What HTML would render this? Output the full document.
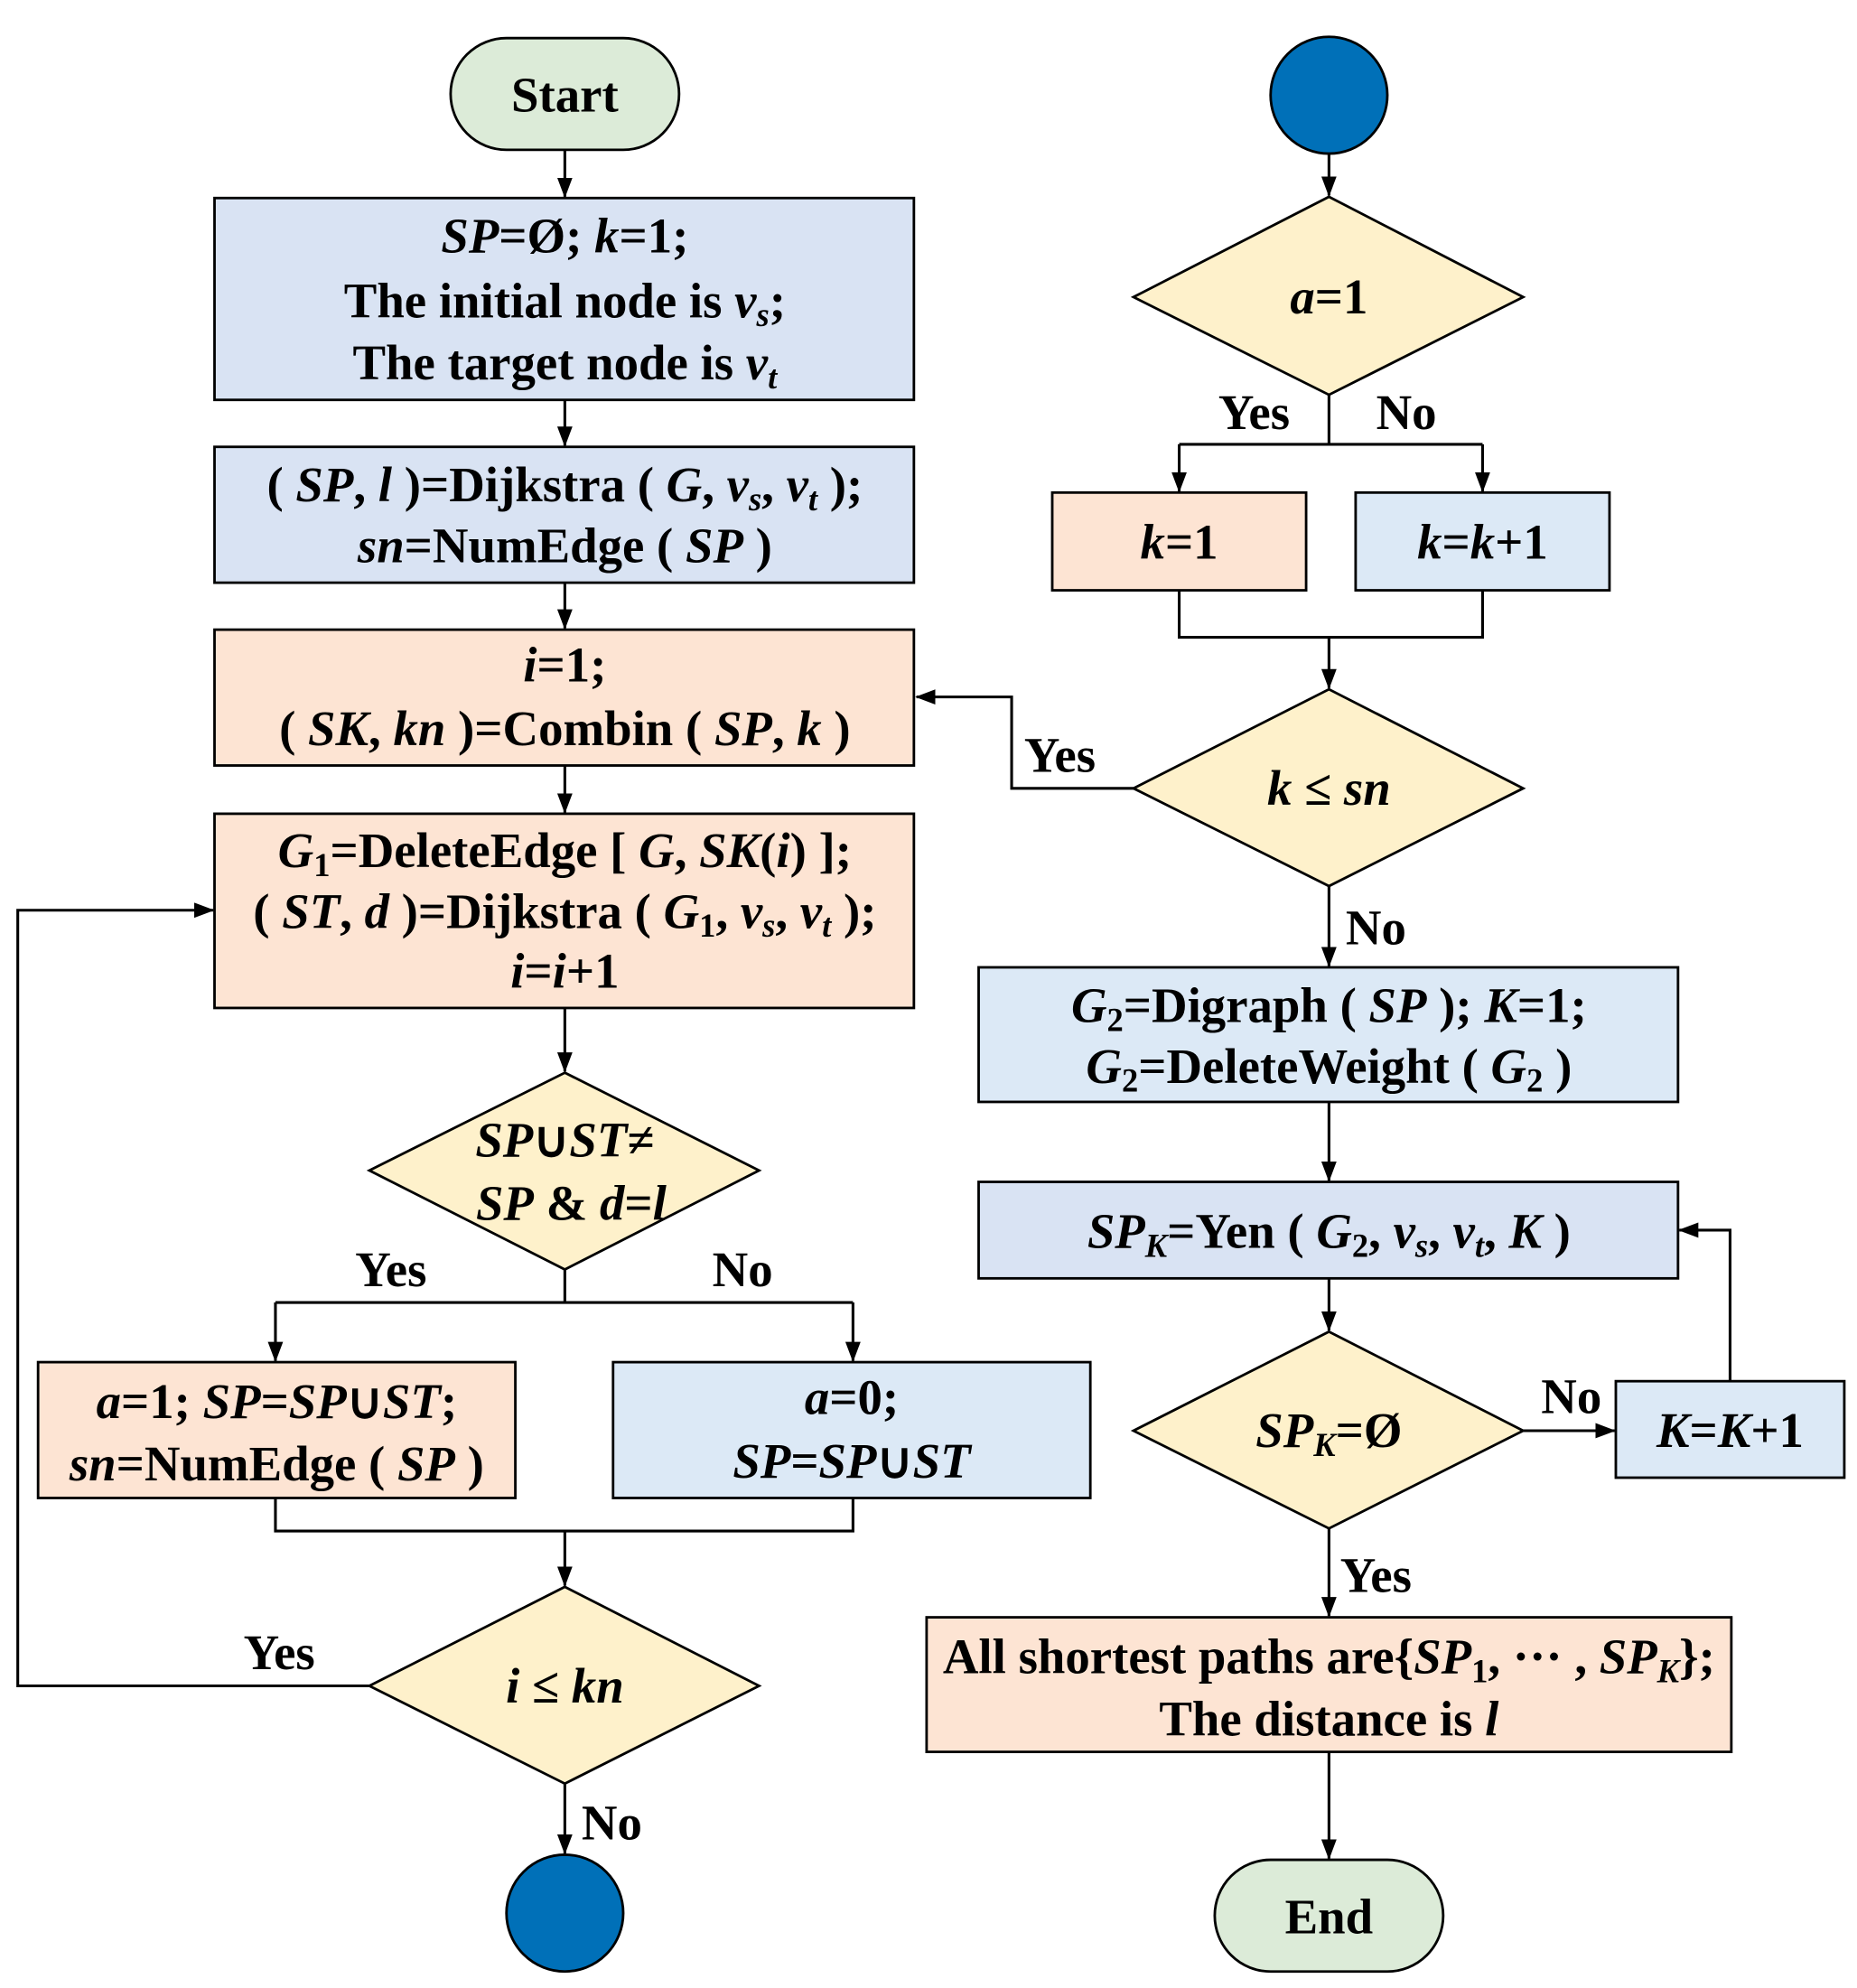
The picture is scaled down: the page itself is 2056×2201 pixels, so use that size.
<!DOCTYPE html>
<html><head><meta charset="utf-8">
<style>
html,body{margin:0;padding:0;background:#fff;}
svg{display:block;}
text{font-family:"Liberation Serif","Times New Roman",serif;font-weight:bold;font-size:39px;fill:#000;}
.i{font-style:italic;}
.s{font-size:26px;}
</style></head><body>
<svg width="2056" height="2201" viewBox="0 0 1463 1566" preserveAspectRatio="none" xmlns="http://www.w3.org/2000/svg">
<defs>
<marker id="b" markerWidth="16" markerHeight="12" refX="15" refY="6" orient="auto" markerUnits="userSpaceOnUse">
<path d="M0,0 L16,6 L0,12 z" fill="#000"/>
</marker>
</defs>
<g stroke="#000" stroke-width="2.2" fill="none">
<path d="M445,118 V155" marker-end="url(#b)"/>
<path d="M445,315 V351" marker-end="url(#b)"/>
<path d="M445,459 V495" marker-end="url(#b)"/>
<path d="M445,603 V640" marker-end="url(#b)"/>
<path d="M445,794 V844" marker-end="url(#b)"/>
<path d="M445,1000 V1026 M217,1026 H672"/>
<path d="M217,1026 V1072" marker-end="url(#b)"/>
<path d="M672,1026 V1072" marker-end="url(#b)"/>
<path d="M217,1180 V1206 H672 V1180 M445,1206 V1249" marker-end="url(#b)"/>
<path d="M291,1328 H14 V717 H168" marker-end="url(#b)"/>
<path d="M445,1405 V1460" marker-end="url(#b)"/>
<path d="M1047,121 V154" marker-end="url(#b)"/>
<path d="M1047,311 V350 M929,350 H1168"/>
<path d="M929,350 V387" marker-end="url(#b)"/>
<path d="M1168,350 V387" marker-end="url(#b)"/>
<path d="M929,465 V502 H1168 V465 M1047,502 V542" marker-end="url(#b)"/>
<path d="M893,621 H797 V549 H722" marker-end="url(#b)"/>
<path d="M1047,698 V761" marker-end="url(#b)"/>
<path d="M1047,868 V930" marker-end="url(#b)"/>
<path d="M1047,1007 V1048" marker-end="url(#b)"/>
<path d="M1200,1127 H1272" marker-end="url(#b)"/>
<path d="M1363,1088 V969 H1323" marker-end="url(#b)"/>
<path d="M1047,1204 V1273" marker-end="url(#b)"/>
<path d="M1047,1380 V1464" marker-end="url(#b)"/>
</g>
<g stroke="#000" stroke-width="2">
<rect x="355" y="30" width="180" height="88" rx="44" fill="#dcebd8"/>
<rect x="169" y="156" width="551" height="159" fill="#d9e3f3"/>
<rect x="169" y="352" width="551" height="107" fill="#d9e3f3"/>
<rect x="169" y="496" width="551" height="107" fill="#fde4d3"/>
<rect x="169" y="641" width="551" height="153" fill="#fde4d3"/>
<polygon points="445,845 598,922 445,1000 291,922" fill="#fef1cb"/>
<rect x="30" y="1073" width="376" height="107" fill="#fde4d3"/>
<rect x="483" y="1073" width="376" height="107" fill="#dce9f6"/>
<polygon points="445,1250 598,1328 445,1405 291,1328" fill="#fef1cb"/>
<circle cx="445" cy="1507" r="46" fill="#0070b8"/>
<circle cx="1047" cy="75" r="46" fill="#0070b8"/>
<polygon points="1047,155 1200,234 1047,311 893,234" fill="#fef1cb"/>
<rect x="829" y="388" width="200" height="77" fill="#fde4d3"/>
<rect x="1068" y="388" width="200" height="77" fill="#dce9f6"/>
<polygon points="1047,543 1200,621 1047,698 893,621" fill="#fef1cb"/>
<rect x="771" y="762" width="551" height="106" fill="#dce9f6"/>
<rect x="771" y="931" width="551" height="76" fill="#d9e3f3"/>
<polygon points="1047,1049 1200,1127 1047,1204 893,1127" fill="#fef1cb"/>
<rect x="1273" y="1088" width="180" height="76" fill="#dce9f6"/>
<rect x="730" y="1274" width="634" height="106" fill="#fde4d3"/>
<rect x="957" y="1465" width="180" height="88" rx="44" fill="#dcebd8"/>
</g>
<g text-anchor="middle">
<text x="445" y="88">Start</text>
<text x="445" y="199"><tspan class="i">SP</tspan>=Ø; <tspan class="i">k</tspan>=1;</text>
<text x="445" y="250">The initial node is <tspan class="i">v<tspan class="s" dy="7">s</tspan></tspan><tspan dy="-7">;</tspan></text>
<text x="445" y="299">The target node is <tspan class="i">v<tspan class="s" dy="7">t</tspan></tspan></text>
<text x="445" y="395">( <tspan class="i">SP</tspan>, <tspan class="i">l</tspan> )=Dijkstra ( <tspan class="i">G</tspan>, <tspan class="i">v<tspan class="s" dy="7">s</tspan></tspan><tspan dy="-7">, </tspan><tspan class="i">v<tspan class="s" dy="7">t</tspan></tspan><tspan dy="-7"> );</tspan></text>
<text x="445" y="443"><tspan class="i">sn</tspan>=NumEdge ( <tspan class="i">SP</tspan> )</text>
<text x="445" y="537"><tspan class="i">i</tspan>=1;</text>
<text x="445" y="587">( <tspan class="i">SK</tspan>, <tspan class="i">kn</tspan> )=Combin ( <tspan class="i">SP</tspan>, <tspan class="i">k</tspan> )</text>
<text x="445" y="683"><tspan class="i">G</tspan><tspan class="s" dy="7">1</tspan><tspan dy="-7">=DeleteEdge [ </tspan><tspan class="i">G</tspan>, <tspan class="i">SK</tspan>(<tspan class="i">i</tspan>) ];</text>
<text x="445" y="731">( <tspan class="i">ST</tspan>, <tspan class="i">d</tspan> )=Dijkstra ( <tspan class="i">G</tspan><tspan class="s" dy="7">1</tspan><tspan dy="-7">, </tspan><tspan class="i">v<tspan class="s" dy="7">s</tspan></tspan><tspan dy="-7">, </tspan><tspan class="i">v<tspan class="s" dy="7">t</tspan></tspan><tspan dy="-7"> );</tspan></text>
<text x="445" y="778"><tspan class="i">i</tspan>=<tspan class="i">i</tspan>+1</text>
<text x="445" y="911"><tspan class="i">SP</tspan>∪<tspan class="i">ST</tspan>≠</text>
<text x="450" y="961"><tspan class="i">SP</tspan> &amp; <tspan class="i">d</tspan>=<tspan class="i">l</tspan></text>
<text x="218" y="1117"><tspan class="i">a</tspan>=1; <tspan class="i">SP</tspan>=<tspan class="i">SP</tspan>∪<tspan class="i">ST</tspan>;</text>
<text x="218" y="1166"><tspan class="i">sn</tspan>=NumEdge ( <tspan class="i">SP</tspan> )</text>
<text x="671" y="1114"><tspan class="i">a</tspan>=0;</text>
<text x="671" y="1164"><tspan class="i">SP</tspan>=<tspan class="i">SP</tspan>∪<tspan class="i">ST</tspan></text>
<text x="445" y="1341"><tspan class="i">i</tspan> ≤ <tspan class="i">kn</tspan></text>
<text x="1047" y="247"><tspan class="i">a</tspan>=1</text>
<text x="929" y="440"><tspan class="i">k</tspan>=1</text>
<text x="1168" y="440"><tspan class="i">k</tspan>=<tspan class="i">k</tspan>+1</text>
<text x="1047" y="634"><tspan class="i">k</tspan> ≤ <tspan class="i">sn</tspan></text>
<text x="1047" y="805"><tspan class="i">G</tspan><tspan class="s" dy="7">2</tspan><tspan dy="-7">=Digraph ( </tspan><tspan class="i">SP</tspan> ); <tspan class="i">K</tspan>=1;</text>
<text x="1047" y="853"><tspan class="i">G</tspan><tspan class="s" dy="7">2</tspan><tspan dy="-7">=DeleteWeight ( </tspan><tspan class="i">G</tspan><tspan class="s" dy="7">2</tspan><tspan dy="-7"> )</tspan></text>
<text x="1047" y="983"><tspan class="i">SP<tspan class="s" dy="7">K</tspan></tspan><tspan dy="-7">=Yen ( </tspan><tspan class="i">G</tspan><tspan class="s" dy="7">2</tspan><tspan dy="-7">, </tspan><tspan class="i">v<tspan class="s" dy="7">s</tspan></tspan><tspan dy="-7">, </tspan><tspan class="i">v<tspan class="s" dy="7">t</tspan></tspan><tspan dy="-7">, </tspan><tspan class="i">K</tspan> )</text>
<text x="1047" y="1140"><tspan class="i">SP<tspan class="s" dy="7">K</tspan></tspan><tspan dy="-7">=Ø</tspan></text>
<text x="1363" y="1140"><tspan class="i">K</tspan>=<tspan class="i">K</tspan>+1</text>
<text x="1047" y="1318">All shortest paths are{<tspan class="i">SP</tspan><tspan class="s" dy="7">1</tspan><tspan dy="-7">, ··· , </tspan><tspan class="i">SP<tspan class="s" dy="7">K</tspan></tspan><tspan dy="-7">};</tspan></text>
<text x="1047" y="1367">The distance is  <tspan class="i">l</tspan></text>
<text x="1047" y="1523">End</text>
<text x="308" y="1013">Yes</text>
<text x="585" y="1013">No</text>
<text x="220" y="1315">Yes</text>
<text x="482" y="1449">No</text>
<text x="988" y="338">Yes</text>
<text x="1108" y="338">No</text>
<text x="835" y="608">Yes</text>
<text x="1084" y="744">No</text>
<text x="1238" y="1113">No</text>
<text x="1084" y="1254">Yes</text>
</g>
</svg>
</body></html>
